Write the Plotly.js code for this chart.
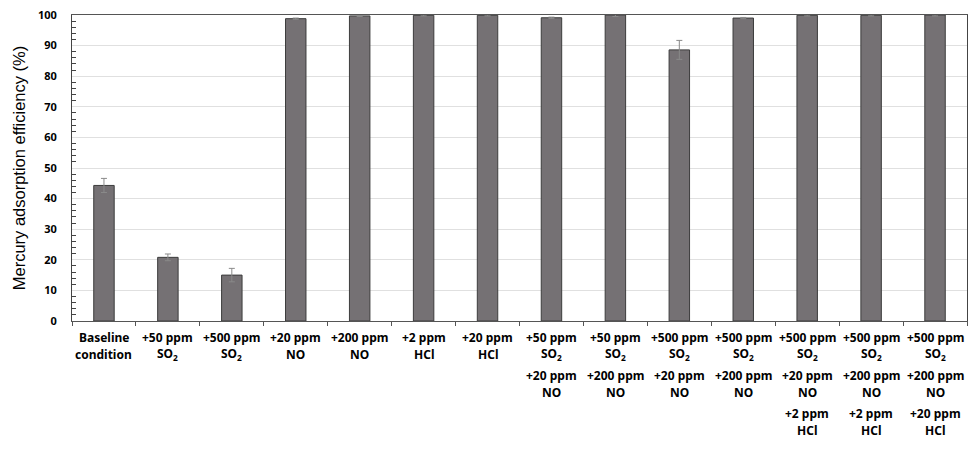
<!DOCTYPE html>
<html>
<head>
<meta charset="utf-8">
<script src="https://cdn.plot.ly/plotly-3.0.1.min.js"></script>
<style>
  body { margin: 0; background: #fff; }
  #chart { width: 977px; height: 451px; }
</style>
</head>
<body>
<div id="chart"></div>
<script>
// conditions, one array of label lines per bar
const labelLines = [
    ['Baseline', 'condition'],
    ['+50 ppm', 'SO<sub>2</sub>'],
    ['+500 ppm', 'SO<sub>2</sub>'],
    ['+20 ppm', 'NO'],
    ['+200 ppm', 'NO'],
    ['+2 ppm', 'HCl'],
    ['+20 ppm', 'HCl'],
    ['+50 ppm', 'SO<sub>2</sub>', '+20 ppm', 'NO'],
    ['+50 ppm', 'SO<sub>2</sub>', '+200 ppm', 'NO'],
    ['+500 ppm', 'SO<sub>2</sub>', '+20 ppm', 'NO'],
    ['+500 ppm', 'SO<sub>2</sub>', '+200 ppm', 'NO'],
    ['+500 ppm', 'SO<sub>2</sub>', '+20 ppm', 'NO', '+2 ppm', 'HCl'],
    ['+500 ppm', 'SO<sub>2</sub>', '+200 ppm', 'NO', '+2 ppm', 'HCl'],
    ['+500 ppm', 'SO<sub>2</sub>', '+200 ppm', 'NO', '+20 ppm', 'HCl'],
]
const efficiency = [44.3, 20.8, 15.0, 98.8, 99.7, 99.9, 99.9, 99.1, 100.0, 88.6, 99.0, 99.9, 99.9, 100.0]
const errors = [2.3, 1.1, 2.2, 0.2, 0.2, 0.2, 0.2, 0.2, 0.5, 3.1, 0.2, 0.2, 0.2, 0.3]
const yTitle = 'Mercury adsorption efficiency (%)'

const categories = labelLines.map(l => l.join(' '))

let annotations = []
for (let i = 0; i < labelLines.length; i++) {
    for (let j = 0; j < labelLines[i].length; j++) {
        let shift = 16 + Math.floor(j / 2) * 38 + (j % 2) * 17
        annotations.push({
            x: categories[i], xref: 'x',
            y: 0, yref: 'paper',
            yanchor: 'middle', xanchor: 'center',
            yshift: -shift,
            showarrow: false,
            text: '<b>' + labelLines[i][j] + '</b>',
            font: { family: 'Noto Sans', size: 12, color: '#000' },
        })
    }
}

var data = [
    {
        type: 'bar',
        x: categories,
        y: efficiency,
        marker: { color: '#757174', line: { color: '#3c3c3c', width: 1 } },
        error_y: { type: 'data', array: errors, visible: true, color: '#8a8a8a', thickness: 1, width: 3 },
        hoverinfo: 'none',
    },
]

var layout = {
    width: 977,
    height: 451,
    margin: { l: 72, r: 10, t: 15, b: 130 },
    paper_bgcolor: '#fff',
    plot_bgcolor: '#fff',
    showlegend: false,
    bargap: 0.68,
    xaxis: {
        type: 'category',
        showticklabels: false,
        tickson: 'boundaries',
        ticks: 'outside',
        ticklen: 4,
        tickcolor: '#555',
        showline: true,
        linecolor: '#555',
        linewidth: 1,
        mirror: true,
        showgrid: false,
    },
    yaxis: {
        range: [0, 100],
        dtick: 10,
        showline: true,
        linecolor: '#444',
        linewidth: 1,
        mirror: true,
        gridcolor: '#e0e0e0',
        zeroline: false,
        ticks: '',
        ticklabelstandoff: 12,
        tickfont: { family: 'Noto Sans', size: 11, color: '#000', weight: 'bold' },
        minor: { dtick: 2, ticks: 'inside', ticklen: 4, tickcolor: '#444', showgrid: false },
        title: { text: yTitle, standoff: 8, font: { family: 'Liberation Sans', size: 16.5, color: '#000' } },
    },
    annotations: annotations,
}

Plotly.newPlot('chart', data, layout, { displayModeBar: false, staticPlot: true })
</script>
</body>
</html>
